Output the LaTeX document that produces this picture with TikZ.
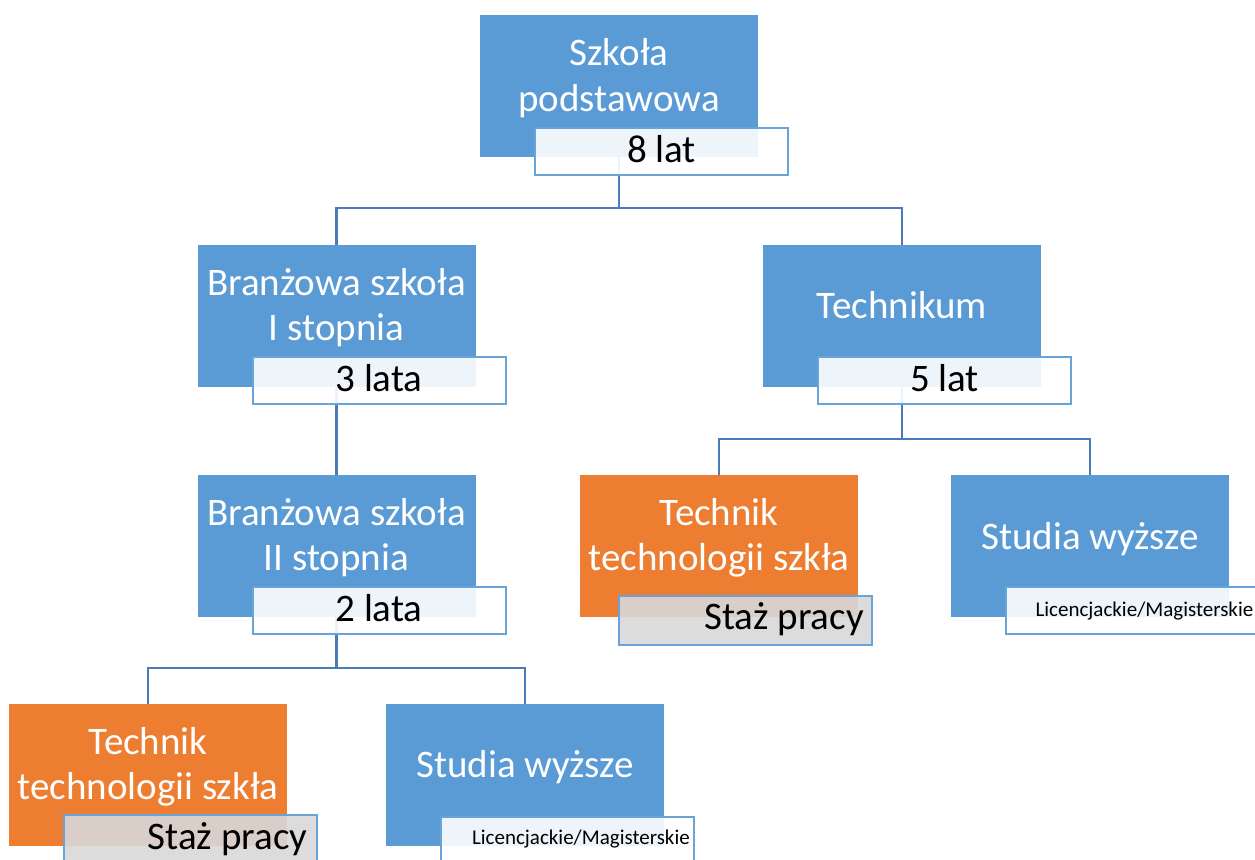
\documentclass[tikz,border=0pt]{standalone}
\usepackage{fontspec}
\setmainfont{Carlito}
\definecolor{boxblue}{RGB}{91,155,213}
\definecolor{boxorange}{RGB}{237,125,49}
\definecolor{linkblue}{RGB}{72,124,184}
\definecolor{lblborder}{RGB}{104,164,218}
\definecolor{lblgray}{RGB}{217,217,217}
\tikzset{
  mainbox/.style={rectangle, draw=none, minimum width=278pt, minimum height=142pt, inner sep=0pt, outer sep=0pt},
  bluebox/.style={mainbox, fill=boxblue},
  orangebox/.style={mainbox, fill=boxorange},
  lblbox/.style={rectangle, draw=lblborder, line width=2pt, fill=white, fill opacity=0.9, minimum width=253pt, minimum height=47pt, inner sep=0pt},
  graylbl/.style={lblbox, fill=lblgray},
  wtxt/.style={text=white, font=\fontsize{39}{46}\selectfont, inner sep=0pt, anchor=base},
  btxt/.style={text=black, font=\fontsize{39}{46}\selectfont, inner sep=0pt},
  stxt/.style={text=black, font=\fontsize{21}{25}\selectfont, inner sep=0pt},
  conn/.style={draw=linkblue, line width=2.5pt}
}
\begin{document}
\begin{tikzpicture}[x=1pt,y=-1pt]
\useasboundingbox (0,0) rectangle (1255,859);
\clip (0,0) rectangle (1255,859);
\fill[white] (0,0) rectangle (1255,859);
% main boxes (positions)
\coordinate (psp) at (619,86);
% connectors first
\path (619,86) node[mainbox] (sp0) {};
\path (336.5,315.5) node[mainbox] (b10) {};
\path (902,315.5) node[mainbox] (tk0) {};
\path (336.5,545.5) node[mainbox] (b20) {};
\path (719,545.5) node[mainbox] (o10) {};
\path (1090,545.5) node[mainbox] (s10) {};
\path (148,774.5) node[mainbox] (o20) {};
\path (525,774.5) node[mainbox] (s20) {};
\draw[conn] (sp0.south) -- ++(0,51) coordinate (j1) -| (b10.north);
\draw[conn] (j1) -| (tk0.north);
\draw[conn] (b10.south) -- (b20.north);
\draw[conn] (tk0.south) -- ++(0,52.5) coordinate (j2) -| (o10.north);
\draw[conn] (j2) -| (s10.north);
\draw[conn] (b20.south) -- ++(0,51.5) coordinate (j3) -| (o20.north);
\draw[conn] (j3) -| (s20.north);
% boxes
\node[bluebox] (sp) at (sp0) {};
\node[bluebox] (b1) at (b10) {};
\node[bluebox] (tk) at (tk0) {};
\node[bluebox] (b2) at (b20) {};
\node[orangebox] (o1) at (o10) {};
\node[bluebox] (s1) at (s10) {};
\node[orangebox] (o2) at (o20) {};
\node[bluebox] (s2) at (s20) {};
% box texts
\node[wtxt] (t1a) at ([yshift=-51pt]sp.north) {Szkoła};
\node[wtxt] (t1b) at ([yshift=-96pt]sp.north) {podstawowa};
\node[wtxt] (t2a) at ([yshift=-51pt]b1.north) {Branżowa szkoła};
\node[wtxt] (t2b) at ([yshift=-96pt]b1.north) {I stopnia};
\node[wtxt] (t3) at ([yshift=-74pt]tk.north) {Technikum};
\node[wtxt] (t4a) at ([yshift=-51pt]b2.north) {Branżowa szkoła};
\node[wtxt] (t4b) at ([yshift=-96pt]b2.north) {II stopnia};
\node[wtxt] (t5a) at ([yshift=-51pt]o1.north) {Technik};
\node[wtxt] (t5b) at ([yshift=-96pt]o1.north) {technologii szkła};
\node[wtxt] (t6) at ([yshift=-75pt]s1.north) {Studia wyższe};
\node[wtxt] (t7a) at ([yshift=-51pt]o2.north) {Technik};
\node[wtxt] (t7b) at ([yshift=-96pt]o2.north) {technologii szkła};
\node[wtxt] (t8) at ([yshift=-74pt]s2.north) {Studia wyższe};
% label boxes
\node[lblbox] (l1) at (661.5,151) {};
\node[lblbox] (l2) at (379,380.5) {};
\node[lblbox] (l3) at (944.5,380.5) {};
\node[lblbox] (l4) at (379,610.5) {};
\node[graylbl, minimum height=49pt] (l5) at (745.5,620) {};
\node[lblbox] (l6) at (1132,610.5) {};
\node[graylbl, minimum height=49pt] (l7) at (190,839.5) {};
\node[lblbox] (l8) at (567.5,840) {};
% label texts
\node[btxt, anchor=base] at ([yshift=-36pt]l1.north) {8 lat};
\node[btxt, anchor=base] at ([yshift=-35pt]l2.north) {3 lata};
\node[btxt, anchor=base] at ([yshift=-35pt]l3.north) {5 lat};
\node[btxt, anchor=base] at ([yshift=-35pt]l4.north) {2 lata};
\node[btxt, anchor=base east] at ([xshift=-9pt,yshift=-35pt]l5.north east) {Staż pracy};
\node[stxt, anchor=base east] at ([xshift=-6pt,yshift=-30pt]l6.north east) {Licencjackie/Magisterskie};
\node[btxt, anchor=base east] at ([xshift=-10pt,yshift=-35pt]l7.north east) {Staż pracy};
\node[stxt, anchor=base east] at ([xshift=-5pt,yshift=-29pt]l8.north east) {Licencjackie/Magisterskie};
\end{tikzpicture}
\end{document}
